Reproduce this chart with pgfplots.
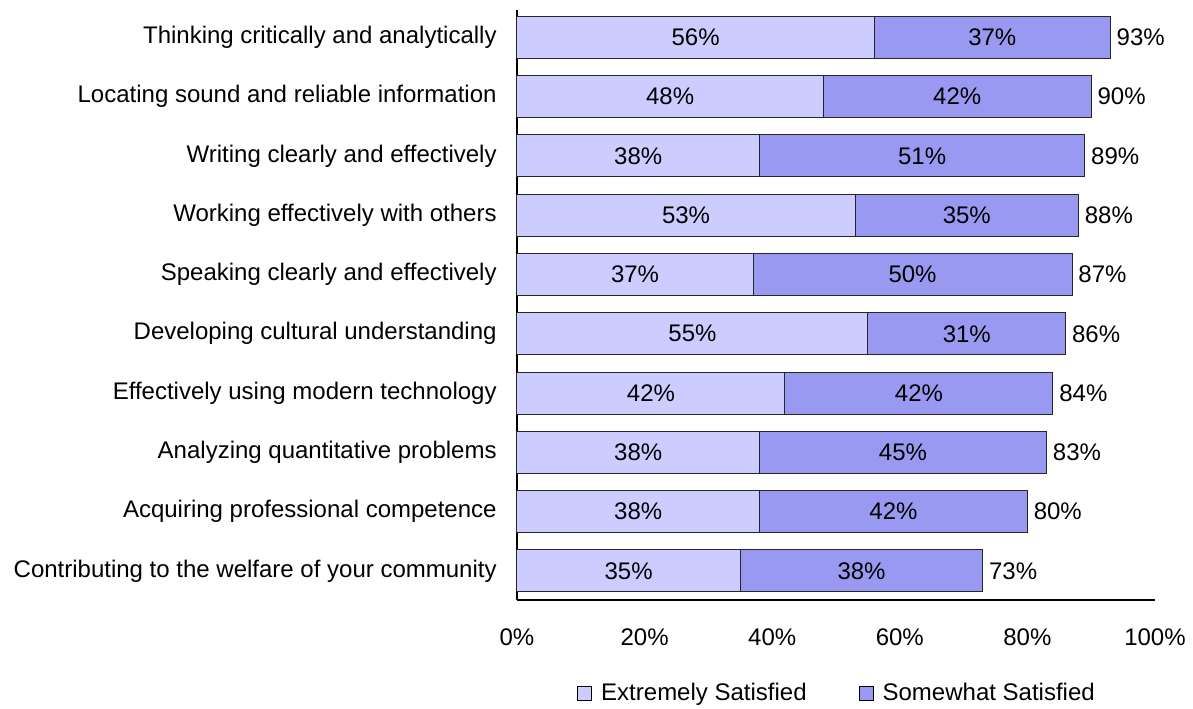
\documentclass[border=0pt]{standalone}
\usepackage{fontspec}
\setmainfont{Liberation Sans}
\usepackage{pgfplots}
\usepackage{pgfplotstable}
\pgfplotsset{compat=1.18}

\definecolor{extremely}{RGB}{204,204,255}
\definecolor{somewhat}{RGB}{153,153,242}

% pos: row position (top = 9); ext / som: satisfied shares; tot: sum of both
\pgfplotstableread{
pos ext som tot
9 56 37 93
8 48 42 90
7 38 51 89
6 53 35 88
5 37 50 87
4 55 31 86
3 42 42 84
2 38 45 83
1 38 42 80
0 35 38 73
}\satisfaction

\pgfplotsset{
  frame/.style={
    at={(0,0)}, anchor=south west,
    scale only axis, width=319pt, height=295pt,
    xmin=0, xmax=100, ymin=-0.49, ymax=9.46,
    clip=false},
  value label/.style={
    draw=none, mark=none, forget plot,
    point meta=explicit symbolic,
    nodes near coords={\pgfplotspointmeta\%},
    every node near coord/.style={anchor=#1, inner sep=0pt, text=black}},
}

\begin{document}
\begin{tikzpicture}[font=\fontsize{12pt}{14pt}\selectfont]
\useasboundingbox (-258.5pt,-54pt) rectangle (338pt,300pt);
\begin{axis}[
  frame,
  xbar stacked, bar width=21pt,
  axis x line=bottom, axis y line=left,
  axis line style={-, line width=0.6pt, black},
  major tick length=0pt,
  xtick={0,20,40,60,80,100},
  xticklabels={0\%,20\%,40\%,60\%,80\%,100\%},
  xticklabel style={anchor=center, inner sep=0pt, yshift=-18.5pt},
  ytick={0,...,9},
  yticklabels={
    Contributing to the welfare of your community,
    Acquiring professional competence,
    Analyzing quantitative problems,
    Effectively using modern technology,
    Developing cultural understanding,
    Speaking clearly and effectively,
    Working effectively with others,
    Writing clearly and effectively,
    Locating sound and reliable information\ ,
    Thinking critically and analytically},
  yticklabel style={anchor=east, inner sep=0pt, xshift=-10pt},
  legend columns=2,
  legend style={at={(axis description cs:0.5,0)}, anchor=center, yshift=-46.5pt,
    draw=none, fill=none, nodes={inner sep=0pt},
    /tikz/every odd column/.append style={column sep=4.5pt},
    /tikz/every even column/.append style={column sep=26pt}},
  legend cell align=left,
  legend image code/.code={\draw[#1, draw=black, line width=0.5pt] (0pt,-3.5pt) rectangle (7pt,3.5pt);},
]
\addplot[fill=extremely, draw=black!85, line width=0.5pt]
  table[x=ext, y=pos] {\satisfaction};
\addlegendentry{Extremely Satisfied}
\addplot[fill=somewhat, draw=black!85, line width=0.5pt]
  table[x=som, y=pos] {\satisfaction};
\addlegendentry{Somewhat Satisfied}
\end{axis}
% value labels: segment shares in the middle of each segment, totals after the bar
\begin{axis}[frame, hide axis]
\addplot[value label=center]
  table[x expr=\thisrow{ext}/2, y=pos, meta=ext] {\satisfaction};
\addplot[value label=center]
  table[x expr=\thisrow{ext}+\thisrow{som}/2, y=pos, meta=som] {\satisfaction};
\addplot[value label=west, every node near coord/.append style={xshift=3pt}]
  table[x=tot, y=pos, meta=tot] {\satisfaction};
\end{axis}
\end{tikzpicture}
\end{document}
